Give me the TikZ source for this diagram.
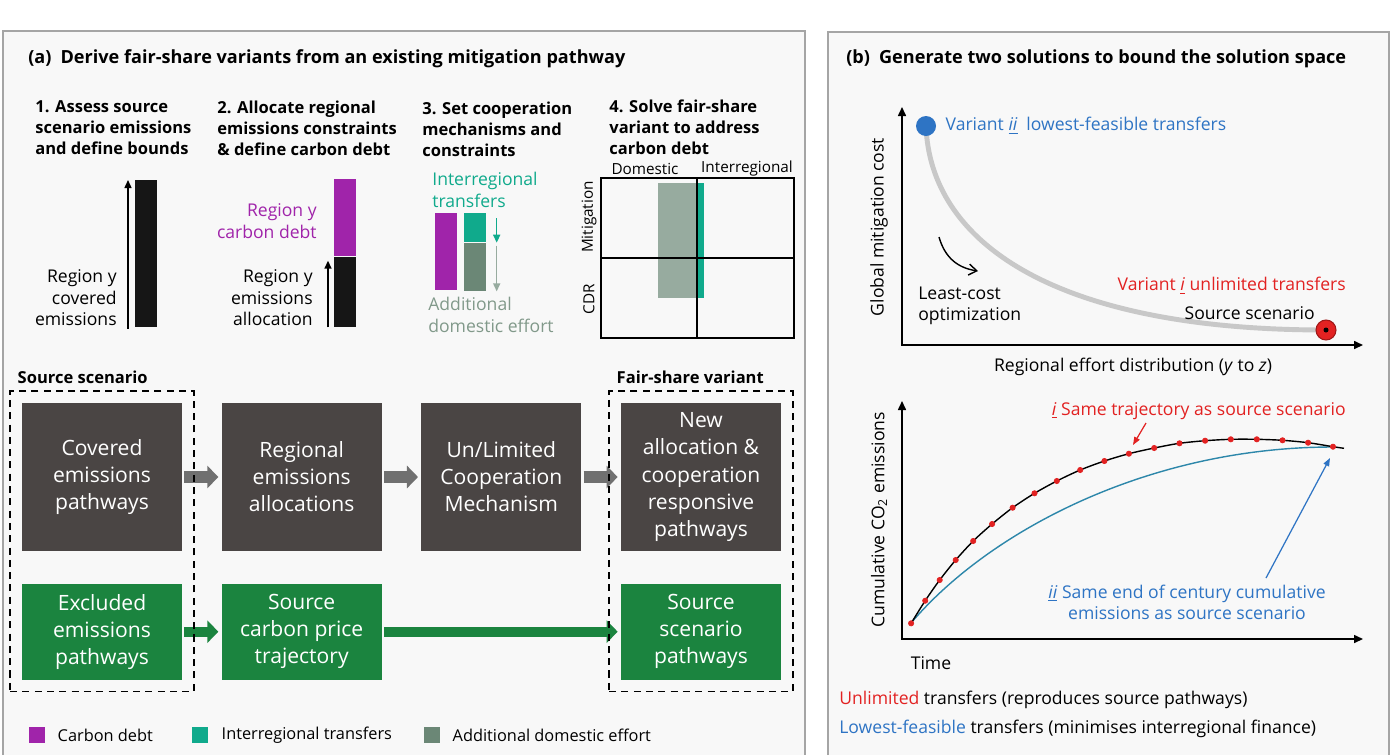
\documentclass[tikz,border=0pt]{standalone}
\usepackage{fontspec}
\setmainfont{Open Sans}
\usepackage{tikz}
\usetikzlibrary{positioning}
\usetikzlibrary{calc}
\usetikzlibrary{arrows.meta}
\usetikzlibrary{fit}

\definecolor{panelbg}{RGB}{248,248,248}
\definecolor{panelline}{RGB}{165,165,165}
\definecolor{boxdark}{RGB}{74,69,68}
\definecolor{boxgreen}{RGB}{27,132,63}
\definecolor{arrowgrey}{RGB}{112,112,112}
\definecolor{debt}{RGB}{160,36,170}
\definecolor{transfer}{RGB}{16,170,140}
\definecolor{effort}{RGB}{107,135,118}
\definecolor{barblack}{RGB}{22,22,22}
\definecolor{unlim}{RGB}{226,34,34}
\definecolor{lowest}{RGB}{46,116,196}
\definecolor{lowcurve}{RGB}{45,135,170}
\definecolor{costcurve}{RGB}{200,200,200}

\newcommand{\titlefont}{\fontsize{10.3}{12}\selectfont\bfseries}
\newcommand{\stepfont}{\fontsize{9.4}{12}\selectfont\bfseries}
\newcommand{\notefont}{\fontsize{10}{12.2}\selectfont}
\newcommand{\boxfont}{\fontsize{12}{15.4}\selectfont}
\newcommand{\gridfont}{\fontsize{8.7}{10}\selectfont}
\newcommand{\legfont}{\fontsize{9.3}{11}\selectfont}
\newcommand{\plotfont}{\fontsize{10}{12}\selectfont}

\tikzset{
	txt/.style={inner sep=0pt},
	panelframe/.style={fill=panelbg, draw=panelline, line width=1.1pt},
	barnode/.style={inner sep=0pt, minimum width=0.44cm, anchor=north west},
	thinarrow/.style={line width=0.85pt, -{Triangle[length=0.16cm, width=0.14cm]}},
	pathbox/.style={inner sep=0pt, minimum width=3.2cm, minimum height=2.96cm,
		fill=boxdark, text=white, align=center, font=\boxfont},
	greenbox/.style={pathbox, fill=boxgreen, minimum height=1.92cm},
	flowgrey/.style={draw=arrowgrey, line width=0.24cm,
		-{Triangle[length=0.22cm, width=0.44cm]}, shorten <=0.04cm, shorten >=0.06cm},
	flowgreen/.style={flowgrey, draw=boxgreen, line width=0.2cm},
	groupbox/.style={draw, dashed, line width=0.9pt, dash pattern=on 4pt off 3pt, inner sep=0.23cm},
	legsq/.style={inner sep=0pt, minimum size=0.32cm},
	axisline/.style={line width=0.9pt, {Triangle[length=0.18cm, width=0.16cm]}-{Triangle[length=0.18cm, width=0.16cm]}},
	dotnode/.style={circle, inner sep=0pt, minimum size=0.4cm},
	pointer/.style={line width=0.7pt, -{Triangle[length=0.16cm, width=0.12cm]}}
}

\begin{document}
\begin{tikzpicture}[x=0.02cm, y=-0.02cm]
\useasboundingbox (0,0) rectangle (1400,755);

% panels
\filldraw[panelframe] (3,755) -- (3,31) -- (805,31) -- (805,755);
\filldraw[panelframe] (828,755) -- (828,32) -- (1389,32) -- (1389,755);

\node[txt, anchor=west, font=\titlefont] (titleA) at (28,59)
	{(a)\enspace Derive fair-share variants from an existing mitigation pathway};
\node[txt, anchor=west, font=\titlefont] (titleB) at (846,59)
	{(b)\enspace Generate two solutions to bound the solution space};

% --- step headings

\node[txt, anchor=west, align=left, font=\stepfont] (step1) at (35,128)
	{1. Assess source\\scenario emissions\\and define bounds};
\node[txt, anchor=west, align=left, font=\stepfont] (step2) at (217,128)
	{2. Allocate regional\\emissions constraints\\\& define carbon debt};
\node[txt, anchor=west, align=left, font=\stepfont] (step3) at (422,129)
	{3. Set cooperation\\mechanisms and\\constraints};
\node[txt, anchor=west, align=left, font=\stepfont] (step4) at (609,127)
	{4. Solve fair-share\\variant to address\\carbon debt};

% --- step 1

\node[barnode, fill=barblack, minimum height=2.94cm] (covbar) at (135,180) {};
\draw[thinarrow] ($(covbar.south west) + (-7, 1)$) -- ($(covbar.north west) + (-7, 0)$);
\node[txt, anchor=east, align=right, font=\notefont] (covlbl) at (117,298)
	{Region y\\covered\\emissions};

% --- step 2

\node[barnode, fill=debt, minimum height=1.54cm] (debtbar) at (334,179) {};
\node[barnode, fill=barblack, minimum height=1.4cm, below=0pt of debtbar] (allocbar) {};
\draw[thinarrow] ($(allocbar.south west) + (-6, 0)$) -- ($(allocbar.north west) + (-6, 4)$);
\node[txt, anchor=east, align=right, font=\notefont, text=debt] (debtlbl) at (317,221)
	{Region y\\carbon debt};
\node[txt, anchor=east, align=right, font=\notefont] (alloclbl) at (313,298)
	{Region y\\emissions\\allocation};

% --- step 3

\node[barnode, fill=debt, minimum height=1.54cm] (debtbarB) at (435,213) {};
\node[barnode, fill=transfer, minimum height=0.58cm] (transbar) at (464,213) {};
\node[barnode, fill=effort, minimum height=0.96cm, below=0pt of transbar] (effortbar) {};
\draw[thinarrow, transfer] ($(transbar.north east) + (10, 5)$) -- ($(transbar.south east) + (10, 0)$);
\draw[thinarrow, effort!70] ($(effortbar.north east) + (10, 3)$) -- ($(effortbar.south east) + (10, 0)$);
\node[txt, anchor=west, align=left, font=\notefont, text=transfer] (translbl) at (432,190)
	{Interregional\\transfers};
\node[txt, anchor=west, align=left, font=\notefont, text=effort!85] (effortlbl) at (428,315)
	{Additional\\domestic effort};

% --- step 4

\node[draw, line width=1.1pt, inner sep=0pt, minimum width=3.86cm, minimum height=3.2cm,
	anchor=north west] (grid) at (600,177) {};
\fill[effort!70] (658,183) rectangle (697,298);
\fill[transfer] (697,183) rectangle (704,298);
\draw[line width=1.1pt] (grid.north) -- (grid.south);
\draw[line width=1.1pt] (grid.west) -- (grid.east);
\node[txt, font=\gridfont] (domlbl) at (645,169) {Domestic};
\node[txt, font=\gridfont] (interlbl) at (747,169) {Interregional};
\node[txt, font=\gridfont, rotate=90] (mitlbl) at (589,217) {Mitigation};
\node[txt, font=\gridfont, rotate=90] (cdrlbl) at (589,299) {CDR};

% --- pathway boxes

\node[pathbox] (covered) at (102,477) {Covered\\emissions\\pathways};
\node[pathbox, right=0.78cm of covered] (regional) {Regional\\emissions\\allocations};
\node[pathbox, right=0.78cm of regional] (coop) {Un/Limited\\Cooperation\\Mechanism};
\node[pathbox, right=0.78cm of coop] (newalloc) {New\\allocation \&\\cooperation\\responsive\\pathways};

\node[greenbox, below=0.64cm of covered] (excluded) {Excluded\\emissions\\pathways};
\node[greenbox, below=0.64cm of regional] (price) {Source\\carbon price\\trajectory};
\node[greenbox, below=0.64cm of newalloc] (sourcepath) {Source\\scenario\\pathways};

\draw[flowgrey] (covered) -- (regional);
\draw[flowgrey] (regional) -- (coop);
\draw[flowgrey] (coop) -- (newalloc);
\draw[flowgreen] (excluded) -- (price);
\draw[flowgreen] (price) -- (sourcepath);

\node[groupbox, fit=(covered)(excluded)] (srcbox) {};
\node[groupbox, fit=(newalloc)(sourcepath)] (fairbox) {};
\node[txt, anchor=south west, font=\stepfont] (srclbl) at ($(srcbox.north west) + (8, -6)$)
	{Source scenario};
\node[txt, anchor=south west, font=\stepfont] (fairlbl) at ($(fairbox.north west) + (8, -6)$)
	{Fair-share variant};

% --- legend

\node[legsq, fill=debt] (legdebt) at (37,735) {};
\node[txt, font=\legfont, right=0.24cm of legdebt] (legdebtlbl) {Carbon debt};
\node[legsq, fill=transfer] (legtrans) at (200,735) {};
\node[txt, font=\legfont, right=0.26cm of legtrans] (legtranslbl) {Interregional transfers};
\node[legsq, fill=effort] (legeffort) at (432,735) {};
\node[txt, font=\legfont, right=0.24cm of legeffort] (legeffortlbl) {Additional domestic effort};

% --- (b) cost curve

\coordinate (costO) at (902,345);
\coordinate (costY) at (902,107);
\coordinate (costX) at (1363,345);
\draw[axisline] (costY) -- (costO) -- (costX);

\coordinate (liiPt) at (926,126);
\coordinate (liPt) at (1326,330);
\draw[costcurve, line width=2.8pt] (liiPt) .. controls (930,240) and (1050,330) .. (liPt);
\node[dotnode, fill=lowest] (varii) at (liiPt) {};
\node[dotnode, fill=unlim, draw=unlim!70!black, line width=0.6pt] (vari) at (liPt) {};
\node[circle, fill=black, inner sep=0pt, minimum size=0.1cm] (vcore) at (vari) {};

\node[txt, font=\plotfont, text=lowest, right=0.18cm of varii] (variilbl)
	{Variant \underline{\textit{ii}}\enspace lowest-feasible transfers};
\node[txt, font=\plotfont, text=unlim, anchor=east] (varilbl) at (1346,286)
	{Variant \underline{\textit{i}} unlimited transfers};
\node[txt, font=\plotfont, anchor=east] (srcscen) at (1315,313) {Source scenario};
\node[txt, font=\plotfont, anchor=west, align=left] (leastcost) at (918,306)
	{Least-cost\\optimization};
\coordinate (lcA) at (939,237);
\coordinate (lcB) at (978,271);
\draw[line width=0.8pt, -{Straight Barb[length=0.16cm, width=0.22cm]}] (lcA) .. controls (945,258) and (958,268) .. (lcB);

\node[txt, font=\plotfont, rotate=90] (costylbl) at (879,227) {Global mitigation cost};
\node[txt, font=\plotfont] (costxlbl) at (1133,367) {Regional effort distribution (\textit{y} to \textit{z})};

% --- (b) cumulative emissions

\coordinate (cumO) at (902,639);
\coordinate (cumY) at (902,401);
\coordinate (cumX) at (1363,639);
\draw[axisline] (cumY) -- (cumO) -- (cumX);

\coordinate (cumStart) at (911,623);
\coordinate (cumEnd) at (1333,447);
\draw[lowcurve, line width=0.8pt] (cumStart) .. controls (990,530) and (1150,447) .. (cumEnd);
\draw[black, line width=0.8pt] plot[smooth] coordinates
	{(911.1,623.3) (925.2,600.7) (939.7,580) (955.7,560) (973.2,541) (992.1,524) (1012.6,507.7)
	 (1034.5,493.3) (1056.8,481) (1080.2,470) (1104.4,461) (1128.9,453.7) (1154.2,448) (1179.5,443.3)
	 (1205.1,440.7) (1230.8,439.3) (1256.8,439.3) (1282.5,440.3) (1308.1,442.7) (1333,446.7) (1344,448.3)};
\path plot[only marks, mark=*, mark size=1.5pt, mark options={fill=unlim, draw=unlim}] coordinates
	{(911.1,623.3) (925.2,600.7) (939.7,580) (955.7,560) (973.2,541) (992.1,524) (1012.6,507.7)
	 (1034.5,493.3) (1056.8,481) (1080.2,470) (1104.4,461) (1128.9,453.7) (1154.2,448) (1179.5,443.3)
	 (1205.1,440.7) (1230.8,439.3) (1256.8,439.3) (1282.5,440.3) (1308.1,442.7) (1333,446.7)};

\node[txt, font=\plotfont, text=unlim, anchor=east] (samei) at (1346,411)
	{\underline{\textit{i}} Same trajectory as source scenario};
\coordinate (trajFrom) at (1146,423);
\coordinate (trajTip) at (1133,445);
\draw[pointer, unlim] (trajFrom) -- (trajTip);

\node[txt, font=\plotfont, text=lowest, align=center] (sameii) at (1187,602)
	{\underline{\textit{ii}} Same end of century cumulative\\emissions as source scenario};
\coordinate (endFrom) at (1266,578);
\coordinate (endTip) at (1330,458);
\draw[pointer, lowest] (endFrom) -- (endTip);

\node[txt, font=\plotfont, rotate=90] (cumylbl) at (879,520) {Cumulative CO\textsubscript{2} emissions};
\node[txt, font=\plotfont] (timelbl) at (931,663) {Time};

\node[txt, font=\plotfont, anchor=west] (legunlim) at (839,700)
	{\textcolor{unlim}{Unlimited} transfers (reproduces source pathways)};
\node[txt, font=\plotfont, anchor=west] (leglow) at (839,729)
	{\textcolor{lowest}{Lowest-feasible} transfers (minimises interregional finance)};

\end{tikzpicture}
\end{document}
